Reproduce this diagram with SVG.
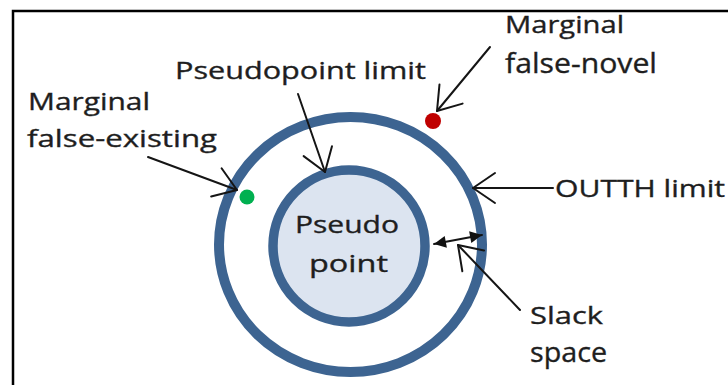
<svg xmlns="http://www.w3.org/2000/svg" width="728" height="385" viewBox="0 0 728 385">
  <style>
    .lbl { font-family: "Open Sans", "Liberation Sans", sans-serif; font-size: 24px; fill: #1e1e1e; stroke: #1e1e1e; stroke-width: 0.35px; }
    .big { font-size: 28px; }
    .ring { fill: none; stroke: #3d6491; stroke-width: 10; }
    .ptr { fill: none; stroke: #151515; stroke-width: 2; stroke-linecap: round; }
  </style>
  <defs>
    <marker id="open-head" markerUnits="userSpaceOnUse" viewBox="-26 -18 30 36" markerWidth="30" markerHeight="36" refX="0" refY="0" orient="auto" overflow="visible">
      <path d="M-22,-15 L0,0 L-22,15" fill="none" stroke="#151515" stroke-width="2" stroke-linecap="round" stroke-linejoin="round"/>
    </marker>
    <marker id="solid-head" markerUnits="userSpaceOnUse" viewBox="-12 -7 14 14" markerWidth="14" markerHeight="14" refX="0" refY="0" orient="auto-start-reverse" overflow="visible">
      <path d="M-12,-6 L0,0 L-12,6 Z" fill="#111"/>
    </marker>
  </defs>

  <rect width="728" height="385" fill="#ffffff"/>

  <!-- frame -->
  <path d="M13,385 L13,11 L728,11" fill="none" stroke="#000" stroke-width="2.5"/>

  <g id="outth-limit">
    <ellipse class="ring" cx="350.5" cy="244.5" rx="131.5" ry="127.5"/>
  </g>

  <g id="pseudo-point">
    <circle cx="349" cy="246" r="76" fill="#dce4f0" stroke="#3d6491" stroke-width="9.5"/>
    <text class="lbl" x="295" y="233" textLength="104" lengthAdjust="spacingAndGlyphs">Pseudo</text>
    <text class="lbl" x="309" y="272" font-size="25" textLength="79" lengthAdjust="spacingAndGlyphs">point</text>
  </g>

  <g id="false-novel-point">
    <circle cx="433" cy="121" r="8" fill="#c00000"/>
  </g>

  <g id="false-existing-point">
    <circle cx="247" cy="197" r="7.5" fill="#00b050"/>
  </g>

  <g id="label-pseudopoint-limit">
    <text class="lbl" x="175" y="79" textLength="251" lengthAdjust="spacingAndGlyphs">Pseudopoint limit</text>
  </g>

  <g id="label-false-existing">
    <text class="lbl" x="28" y="110" textLength="122" lengthAdjust="spacingAndGlyphs">Marginal</text>
    <text class="lbl" x="27" y="147" font-size="27" textLength="190" lengthAdjust="spacingAndGlyphs">false-existing</text>
  </g>

  <g id="label-false-novel">
    <text class="lbl" x="505" y="33" textLength="119" lengthAdjust="spacingAndGlyphs">Marginal</text>
    <text class="lbl big" x="505" y="73" textLength="152" lengthAdjust="spacingAndGlyphs">false-novel</text>
  </g>

  <g id="label-outth">
    <text class="lbl" x="555" y="197" textLength="170" lengthAdjust="spacingAndGlyphs">OUTTH limit</text>
  </g>

  <g id="label-slack">
    <text class="lbl" x="530" y="324" textLength="73" lengthAdjust="spacingAndGlyphs">Slack</text>
    <text class="lbl big" x="530" y="362" textLength="77" lengthAdjust="spacingAndGlyphs">space</text>
  </g>

  <g id="connectors">
    <line class="ptr" x1="298" y1="94" x2="325" y2="172" marker-end="url(#open-head)"/>
    <line class="ptr" x1="148" y1="157" x2="237" y2="190" marker-end="url(#open-head)"/>
    <line class="ptr" x1="490" y1="47" x2="437" y2="111" marker-end="url(#open-head)"/>
    <line class="ptr" x1="553" y1="188" x2="473" y2="188" stroke-width="2.5" marker-end="url(#open-head)"/>
    <line class="ptr" x1="434" y1="244" x2="482" y2="235" marker-start="url(#solid-head)" marker-end="url(#solid-head)"/>
    <line class="ptr" x1="520" y1="310" x2="458" y2="245" marker-end="url(#open-head)"/>
  </g>
</svg>
